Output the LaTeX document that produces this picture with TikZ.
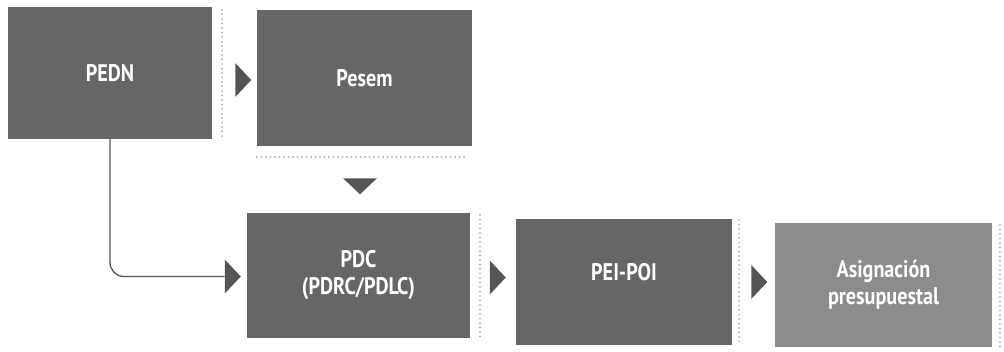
\documentclass[tikz,border=0pt]{standalone}
\usepackage{fontspec}
\newfontfamily\boxfont{PT Sans}[FakeStretch=0.84]
\usepackage{tikz}
\usetikzlibrary{arrows,calc,shapes.geometric}

\definecolor{boxgray}{RGB}{102,102,102}
\definecolor{lightgray}{RGB}{140,140,140}
\definecolor{trigray}{RGB}{85,85,85}
\definecolor{dotgray}{RGB}{150,150,150}

\begin{document}
\begin{tikzpicture}[x=1pt,y=1pt,yscale=-1,xscale=1,
  box/.style={fill=boxgray,draw=none,inner sep=0pt,text=white,align=center,
    font=\boxfont\bfseries\fontsize{24}{27}\selectfont},
  tri/.style={isosceles triangle,isosceles triangle stretches,fill=trigray,draw=none,
    inner sep=0pt,minimum width=34pt,minimum height=16pt},
  sep/.style={draw=dotgray,line width=1.6pt,line cap=round,dash pattern={on 0pt off 4.5pt}},
  link/.style={draw=trigray,line width=1.3pt}]
\useasboundingbox (0,0) rectangle (1004,351);

%Shape: Rectangle
\node[box,minimum width=204pt,minimum height=132pt] (pedn) at (110,73) {PEDN};
%Shape: Rectangle
\node[box,minimum width=215pt,minimum height=136pt] (pesem) at (364.5,78) {Pesem};
%Shape: Rectangle
\node[box,minimum width=223pt,minimum height=125pt] (pdc) at (358.5,275) {PDC\\(PDRC/PDLC)};
%Shape: Rectangle
\node[box,minimum width=216pt,minimum height=126pt] (peipoi) at (624,281.5) {\raisebox{19pt}{PEI-POI}};
%Shape: Rectangle
\node[box,fill=lightgray,minimum width=217pt,minimum height=124pt] (asig) at (883.5,285)
  {Asignación\\presupuestal};

%Shape: Triangle
\node[tri] (t1) at (242,80) {};
\node[tri,shape border rotate=-90] (t2) at (360,185) {};
\node[tri] (t3) at (231.5,276.5) {};
\node[tri] (t4) at (496.5,277.5) {};
\node[tri] (t5) at (758,282) {};

%Dotted Lines
\draw[sep] (222,10) -- (222,140);
\draw[sep] (257,157) -- (466,157);
\draw[sep] (480,215) -- (480,340);
\draw[sep] (739,220) -- (739,345);
\draw[sep] (1000,225) -- (1000,350);

%Curve Lines
\draw[link,rounded corners=14pt] (pedn.south) |- (t3.west);

\end{tikzpicture}
\end{document}
